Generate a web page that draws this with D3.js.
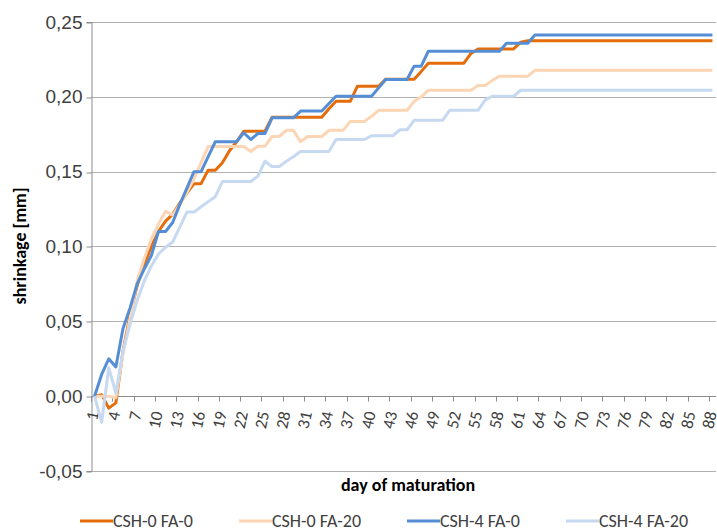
<!DOCTYPE html>
<html>
<head>
<meta charset="utf-8">
<script src="https://cdn.jsdelivr.net/npm/d3@7"></script>
<style>
    body { margin: 0; background: #fff; font-family: Carlito, Lato, "Open Sans", sans-serif; }
    .tick-label { fill: #404040; font-size: 19px; }
    .x-label { font-size: 17px; }
    .axis-title { fill: #000; font-size: 18px; font-weight: bold; }
    .legend-label { fill: #404040; font-size: 18px; }
</style>
</head>
<body>
<div id="chart"></div>
<script>
// day of maturation (categories)
const days = d3.range(1, 89);
const labelDays = days.filter((d, i) => i % 3 === 0);

const seriesNames = ['CSH-0 FA-0', 'CSH-0 FA-20', 'CSH-4 FA-0', 'CSH-4 FA-20'];
const seriesColors = ['#e46c0a', '#fcd5b5', '#558ed5', '#c6d9f1'];

// shrinkage [mm], one value per day
const csh0fa0 = [
    0, 0.001, -0.008, -0.0045, 0.030, 0.054, 0.074, 0.088, 0.100, 0.110,
    0.117, 0.1215, 0.129, 0.1356, 0.142, 0.142, 0.151, 0.151, 0.156, 0.164,
    0.170, 0.177, 0.177, 0.177, 0.177, 0.1864, 0.1864, 0.1864, 0.1864, 0.1864,
    0.1864, 0.1864, 0.1864, 0.192, 0.197, 0.197, 0.197, 0.207, 0.207, 0.207,
    0.207, 0.2118, 0.2118, 0.2118, 0.2118, 0.2118, 0.217, 0.2225, 0.2225, 0.2225,
    0.2225, 0.2225, 0.2225, 0.229, 0.232, 0.232, 0.232, 0.232, 0.232, 0.232,
    0.2365, 0.2375, 0.2375, 0.2375, 0.2375, 0.2375, 0.2375, 0.2375, 0.2375, 0.2375,
    0.2375, 0.2375, 0.2375, 0.2375, 0.2375, 0.2375, 0.2375, 0.2375, 0.2375, 0.2375,
    0.2375, 0.2375, 0.2375, 0.2375, 0.2375, 0.2375, 0.2375, 0.2375
];
const csh0fa20 = [
    0, 0, 0, -0.001, 0.028, 0.052, 0.077, 0.092, 0.105, 0.115,
    0.1235, 0.121, 0.128, 0.136, 0.145, 0.156, 0.1668, 0.1668, 0.1668, 0.1668,
    0.1668, 0.1668, 0.1635, 0.167, 0.167, 0.1735, 0.1735, 0.1776, 0.1776, 0.170,
    0.1735, 0.1735, 0.1735, 0.1776, 0.1776, 0.1776, 0.1836, 0.1836, 0.1836, 0.187,
    0.191, 0.191, 0.191, 0.191, 0.191, 0.197, 0.200, 0.2044, 0.2044, 0.2044,
    0.2044, 0.2044, 0.2044, 0.2044, 0.2076, 0.2076, 0.211, 0.2138, 0.2138, 0.2138,
    0.2138, 0.2138, 0.2177, 0.2177, 0.2177, 0.2177, 0.2177, 0.2177, 0.2177, 0.2177,
    0.2177, 0.2177, 0.2177, 0.2177, 0.2177, 0.2177, 0.2177, 0.2177, 0.2177, 0.2177,
    0.2177, 0.2177, 0.2177, 0.2177, 0.2177, 0.2177, 0.2177, 0.2177
];
const csh4fa0 = [
    0, 0.0145, 0.025, 0.0195, 0.045, 0.059, 0.075, 0.085, 0.094, 0.110,
    0.110, 0.116, 0.128, 0.139, 0.150, 0.150, 0.160, 0.170, 0.170, 0.170,
    0.170, 0.176, 0.1715, 0.1755, 0.1755, 0.186, 0.186, 0.186, 0.186, 0.1905,
    0.1905, 0.1905, 0.1905, 0.1955, 0.2004, 0.2004, 0.2004, 0.2004, 0.2004, 0.2004,
    0.206, 0.2116, 0.2116, 0.2116, 0.2116, 0.2205, 0.2205, 0.2305, 0.2305, 0.2305,
    0.2305, 0.2305, 0.2305, 0.2305, 0.2305, 0.2305, 0.2305, 0.2305, 0.2358, 0.2358,
    0.2358, 0.2358, 0.2413, 0.2413, 0.2413, 0.2413, 0.2413, 0.2413, 0.2413, 0.2413,
    0.2413, 0.2413, 0.2413, 0.2413, 0.2413, 0.2413, 0.2413, 0.2413, 0.2413, 0.2413,
    0.2413, 0.2413, 0.2413, 0.2413, 0.2413, 0.2413, 0.2413, 0.2413
];
const csh4fa20 = [
    0, -0.0175, 0.019, 0.002, 0.030, 0.048, 0.064, 0.077, 0.087, 0.095,
    0.0995, 0.103, 0.113, 0.123, 0.123, 0.1266, 0.130, 0.1333, 0.1434, 0.1434,
    0.1434, 0.1434, 0.1434, 0.147, 0.157, 0.1534, 0.1534, 0.157, 0.160, 0.1635,
    0.1635, 0.1635, 0.1635, 0.1635, 0.1715, 0.1715, 0.1715, 0.1715, 0.1715, 0.174,
    0.174, 0.174, 0.174, 0.178, 0.178, 0.1843, 0.1843, 0.1843, 0.1843, 0.1843,
    0.191, 0.191, 0.191, 0.191, 0.191, 0.198, 0.2004, 0.2004, 0.2004, 0.2004,
    0.2044, 0.2044, 0.2044, 0.2044, 0.2044, 0.2044, 0.2044, 0.2044, 0.2044, 0.2044,
    0.2044, 0.2044, 0.2044, 0.2044, 0.2044, 0.2044, 0.2044, 0.2044, 0.2044, 0.2044,
    0.2044, 0.2044, 0.2044, 0.2044, 0.2044, 0.2044, 0.2044, 0.2044
];

const yTicks = [-0.05, 0, 0.05, 0.10, 0.15, 0.20, 0.25];

const series = [csh0fa0, csh0fa20, csh4fa0, csh4fa20];

// Chart dimensions
const svgWidth = 717, svgHeight = 531;
const margin = { top: 22, right: 1, bottom: 60, left: 91 };
const width = svgWidth - margin.left - margin.right;
const height = svgHeight - margin.top - margin.bottom;

const svg = d3.select("#chart")
    .append("svg")
    .attr("width", svgWidth)
    .attr("height", svgHeight);

const g = svg.append("g")
    .attr("transform", "translate(" + margin.left + "," + margin.top + ")");

// Scales
const xScale = d3.scaleBand()
    .domain(days)
    .range([0, width])
    .padding(0);

const yScale = d3.scaleLinear()
    .domain([-0.05, 0.25])
    .range([height, 0]);

const fmt = v => d3.format(".2f")(v).replace(".", ",").replace("\u2212", "-");

// Horizontal gridlines
g.selectAll('.grid-line')
    .data(yTicks)
    .enter()
    .append('line')
    .attr('class', 'grid-line')
    .attr('x1', 0)
    .attr('x2', width)
    .attr('y1', d => Math.round(yScale(d)) + 0.5)
    .attr('y2', d => Math.round(yScale(d)) + 0.5)
    .attr('stroke', '#b0b0b0')
    .attr('stroke-width', 1);

// Y axis
const yAxis = g.append("g")
    .attr("transform", "translate(0.5,0)")
    .call(d3.axisLeft(yScale).tickValues(yTicks).tickFormat(fmt).tickSize(5).tickPadding(4));
yAxis.select(".domain").attr("stroke", "#8c8c8c");
yAxis.selectAll(".tick line")
    .attr("stroke", "#8c8c8c")
    .attr("transform", d => "translate(0," + (Math.round(yScale(d)) + 0.5 - yScale(d)) + ")");
yAxis.selectAll(".tick text").attr("class", "tick-label").attr("font-family", null).attr("font-size", null);

// Category axis at zero
const y0 = Math.round(yScale(0)) + 0.5;
g.append("line")
    .attr("x1", 0).attr("x2", width)
    .attr("y1", y0).attr("y2", y0)
    .attr("stroke", "#8c8c8c");

g.selectAll('.x-tick')
    .data(labelDays)
    .enter()
    .append('line')
    .attr('class', 'x-tick')
    .attr('x1', d => Math.round(xScale(d)) + 0.5)
    .attr('x2', d => Math.round(xScale(d)) + 0.5)
    .attr('y1', y0)
    .attr('y2', y0 + 5)
    .attr('stroke', '#8c8c8c');

g.selectAll('.x-label')
    .data(labelDays)
    .enter()
    .append('text')
    .attr('class', 'tick-label x-label')
    .attr('transform', d => `translate(${xScale(d) + xScale.bandwidth() / 2 - 1.5},${y0 + 15}) rotate(-78)`)
    .attr('text-anchor', 'end')
    .attr('dy', '0.35em')
    .text(d => d);

// Lines
const line = d3.line()
    .x((d, i) => xScale(days[i]) + xScale.bandwidth() / 2)
    .y(d => yScale(d));

g.selectAll('.series-line')
    .data(series)
    .enter()
    .append('path')
    .attr('class', 'series-line')
    .attr('d', d => line(d))
    .attr('fill', 'none')
    .attr('stroke', (d, i) => seriesColors[i])
    .attr('stroke-width', 3)
    .attr('stroke-linejoin', 'round');

// Axis titles
svg.append("text")
    .attr("class", "axis-title")
    .attr("x", 408)
    .attr("y", 491)
    .attr("text-anchor", "middle")
    .text("day of maturation");

svg.append("text")
    .attr("class", "axis-title")
    .attr("transform", "translate(26,246) rotate(-90)")
    .attr("text-anchor", "middle")
    .text("shrinkage [mm]");

// Legend
const legendX = [80, 239, 407, 566];
const legend = svg.selectAll('.legend-item')
    .data(seriesNames)
    .enter()
    .append('g')
    .attr('class', 'legend-item')
    .attr('transform', (d, i) => `translate(${legendX[i]},521)`);

legend.append('line')
    .attr('x1', 0).attr('x2', 33)
    .attr('y1', 0).attr('y2', 0)
    .attr('stroke', (d, i) => seriesColors[i])
    .attr('stroke-width', 3);

legend.append('text')
    .attr('class', 'legend-label')
    .attr('x', 33)
    .attr('y', 6)
    .text(d => d);
</script>
</body>
</html>
